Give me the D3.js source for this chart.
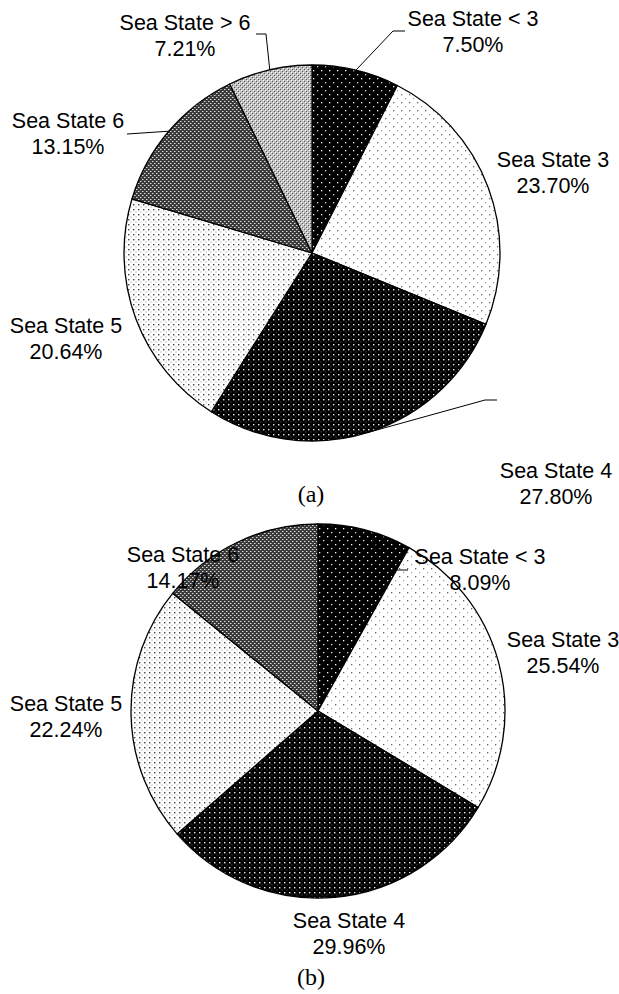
<!DOCTYPE html>
<html>
<head>
<meta charset="utf-8">
<script src="https://cdn.jsdelivr.net/npm/d3@7"></script>
<style>
  html, body { margin: 0; padding: 0; background: #fff; }
  svg { display: block; }
</style>
</head>
<body>
<script>
// Sea state occurrence, two datasets (a) and (b)
const labelsA = ["Sea State < 3", "Sea State 3", "Sea State 4", "Sea State 5", "Sea State 6", "Sea State > 6"];
const valuesA = [7.50, 23.70, 27.80, 20.64, 13.15, 7.21];
const labelsB = ["Sea State < 3", "Sea State 3", "Sea State 4", "Sea State 5", "Sea State 6"];
const valuesB = [8.09, 25.54, 29.96, 22.24, 14.17];
const captions = ["(a)", "(b)"];

// fill pattern key per category
const patternKeys = ["p-lt3", "p-s3", "p-s4", "p-s5", "p-s6", "p-gt6"];

// label placement: centre x, first baseline, optional leader points after the arc point
const layoutA = [
  { x: 473, y: 26, leader: [[393, 31], [405, 31]] },
  { x: 553, y: 167 },
  { x: 556, y: 478, leader: [[485, 400], [497, 400]] },
  { x: 66, y: 333 },
  { x: 68, y: 128, leader: [[127, 134]] },
  { x: 185, y: 30, leader: [[266, 34], [256, 34]] }
];
const layoutB = [
  { x: 480, y: 564, leader: [[395, 570], [408, 570]] },
  { x: 563, y: 647 },
  { x: 349, y: 928 },
  { x: 66, y: 711 },
  { x: 183, y: 562 }
];

const W = 619, H = 994;
const svg = d3.select("body").append("svg").attr("width", W).attr("height", H);
const defs = svg.append("defs");

function pattern(id, size, bg, dots) {
  const p = defs.append("pattern").attr("id", id)
    .attr("patternUnits", "userSpaceOnUse").attr("width", size).attr("height", size);
  p.append("rect").attr("width", size).attr("height", size).attr("fill", bg);
  dots.forEach(d => p.append("rect").attr("x", d[0]).attr("y", d[1])
    .attr("width", d[2]).attr("height", d[2]).attr("fill", d[3]));
}
// black with sparse white dots
pattern("p-lt3", 8, "#000", [[1, 1, 1.3, "#fff"], [5, 5, 1.3, "#ddd"]]);
// white with sparse grey dots
pattern("p-s3", 8, "#fff", [[1, 1, 1.3, "#666"], [5, 5, 1.2, "#999"]]);
// black with dense white dots
pattern("p-s4", 5, "#000", [[1, 1, 1.4, "#eee"], [3.5, 3.5, 0.9, "#777"]]);
// white with dense dark dots
pattern("p-s5", 5, "#fff", [[1, 1, 1.4, "#444"], [3.5, 3.5, 1, "#999"]]);
// dark grey lattice
pattern("p-s6", 4, "#3a3a3a", [[0, 0, 1, "#ddd"], [2, 2, 1, "#ddd"], [1, 0, 1, "#888"], [3, 2, 1, "#888"]]);
// light grey lattice
pattern("p-gt6", 4, "#c0c0c0", [[0, 0, 1, "#555"], [2, 2, 1, "#555"], [1, 1, 1, "#fff"], [3, 3, 1, "#fff"]]);

const font = "'Liberation Sans', Arial, sans-serif";

function drawPie(values, labels, layout, cx, cy, r, caption, capX, capY) {
  const g = svg.append("g");
  const pie = d3.pie().sort(null).value(d => d);
  const arcs = pie(values);
  const arc = d3.arc().innerRadius(0).outerRadius(r);
  const pg = g.append("g").attr("transform", `translate(${cx},${cy})`);
  pg.selectAll("path").data(arcs).join("path")
    .attr("d", arc)
    .attr("fill", (d, i) => `url(#${patternKeys[i]})`)
    .attr("stroke", "#000").attr("stroke-width", 1.3).attr("stroke-linejoin", "round");

  arcs.forEach((a, i) => {
    const L = layout[i];
    if (L.leader) {
      const mid = (a.startAngle + a.endAngle) / 2;
      const pts = [[cx + r * Math.sin(mid), cy - r * Math.cos(mid)], ...L.leader];
      g.append("path").attr("d", d3.line()(pts))
        .attr("fill", "none").attr("stroke", "#000").attr("stroke-width", 1);
    }
    const t = g.append("text").attr("text-anchor", "middle")
      .attr("font-family", font).attr("font-size", 21.5).attr("fill", "#000");
    t.append("tspan").attr("x", L.x).attr("y", L.y).text(labels[i]);
    t.append("tspan").attr("x", L.x).attr("y", L.y + 26).text(values[i].toFixed(2) + "%");
  });

  g.append("text").attr("x", capX).attr("y", capY).attr("text-anchor", "middle")
    .attr("font-family", "'Liberation Serif', 'Times New Roman', serif")
    .attr("font-size", 24).text(caption);
}

drawPie(valuesA, labelsA, layoutA, 312, 253, 188, captions[0], 311, 502);
drawPie(valuesB, labelsB, layoutB, 318, 711, 187, captions[1], 311, 985);
</script>
</body>
</html>
